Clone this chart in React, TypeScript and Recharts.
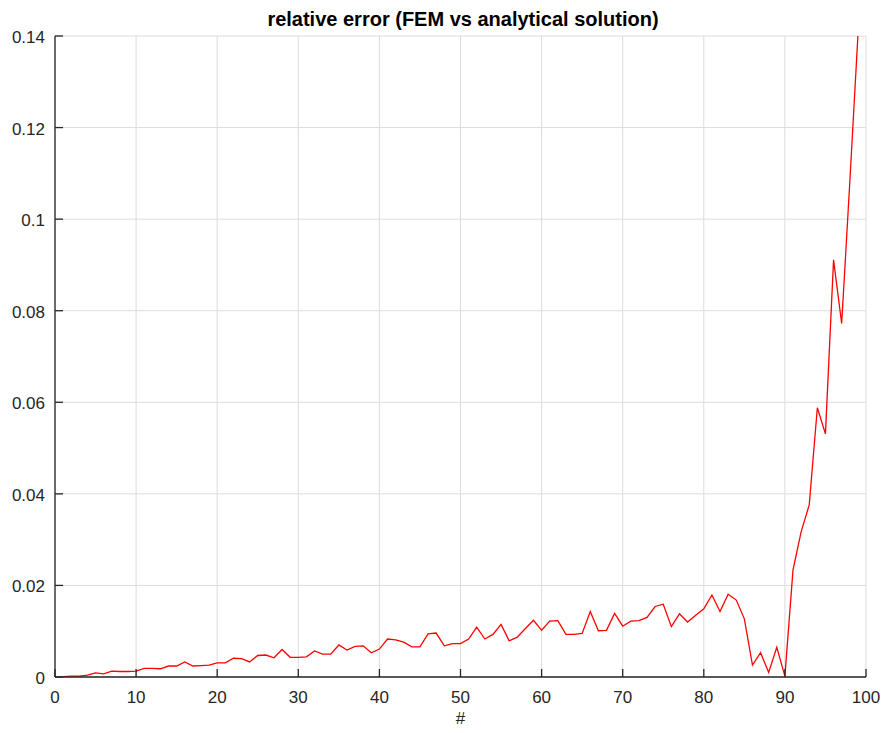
import { LineChart, Line, XAxis, YAxis, CartesianGrid } from 'recharts'

// relative error per sample, samples numbered from 1
const relErr = [
  0.0001, 0.0002, 0.0002, 0.0004, 0.0009, 0.0007, 0.0013, 0.0012, 0.0012, 0.0013,
  0.0019, 0.0019, 0.0018, 0.0024, 0.0024, 0.0033, 0.0024, 0.0025, 0.0026, 0.0031,
  0.0031, 0.0041, 0.004, 0.0033, 0.0047, 0.0048, 0.0042, 0.006, 0.0043, 0.0043,
  0.0044, 0.0057, 0.005, 0.005, 0.007, 0.0059, 0.0067, 0.0068, 0.0053, 0.0061,
  0.0083, 0.0081, 0.0076, 0.0066, 0.0066, 0.0094, 0.0096, 0.0068, 0.0073, 0.0073,
  0.0083, 0.0109, 0.0083, 0.0093, 0.0115, 0.0079, 0.0087, 0.0106, 0.0124, 0.0102,
  0.0122, 0.0123, 0.0093, 0.0093, 0.0095, 0.0143, 0.0101, 0.0102, 0.0139, 0.0111,
  0.0122, 0.0123, 0.013, 0.0154, 0.0159, 0.011, 0.0138, 0.012, 0.0135, 0.0149,
  0.0179, 0.0143, 0.0181, 0.0168, 0.0127, 0.0026, 0.0053, 0.001, 0.0065, 0.0002,
  0.0234, 0.0317, 0.0376, 0.0588, 0.0531, 0.0911, 0.0772, 0.108, 0.14,
]

const xTicks = [0, 10, 20, 30, 40, 50, 60, 70, 80, 90, 100]
const yTicks = [0, 0.02, 0.04, 0.06, 0.08, 0.1, 0.12, 0.14]

const chartData = relErr.map((v, i) => ({ n: i + 1, err: v }))

const INK = '#262626'
const FONT = '"Liberation Sans", Arial, Helvetica, sans-serif'

// negative tickSize turns the tick marks inward (MATLAB style)
function BottomTick(props: any) {
  const { x, y, payload } = props
  return (
    <text x={x} y={y + 14} textAnchor="middle" fill={INK} fontSize={17} fontFamily={FONT}>
      {payload.value}
    </text>
  )
}

function LeftTick(props: any) {
  const { x, y, payload } = props
  return (
    <text x={x} y={y + 7} textAnchor="end" fill={INK} fontSize={17} fontFamily={FONT}>
      {payload.value}
    </text>
  )
}

export default function App() {
  return (
    <div style={{ position: 'relative', width: 882, height: 733, background: '#fff' }}>
      <style>{'body{margin:0}'}</style>
      <div
        style={{
          position: 'absolute',
          left: 55,
          width: 816,
          top: 8,
          textAlign: 'center',
          fontFamily: FONT,
          fontWeight: 'bold',
          fontSize: 20,
          color: '#000',
        }}
      >
        relative error (FEM vs analytical solution)
      </div>
      <div
        style={{
          position: 'absolute',
          left: 55,
          width: 811,
          top: 709,
          textAlign: 'center',
          fontFamily: FONT,
          fontSize: 17,
          color: INK,
        }}
      >
        #
      </div>
      <LineChart width={882} height={733} data={chartData} margin={{ top: 36, right: 16, left: 0, bottom: 0 }}>
        <CartesianGrid stroke="#dcdcdc" strokeWidth={1} />
        <XAxis
          dataKey="n"
          type="number"
          domain={[0, 100]}
          ticks={xTicks}
          interval={0}
          height={56}
          tickSize={-8}
          tickMargin={20}
          tickLine={{ stroke: INK, strokeWidth: 1.3 }}
          axisLine={{ stroke: INK, strokeWidth: 1.3 }}
          tick={<BottomTick />}
        />
        <YAxis
          type="number"
          domain={[0, 0.14]}
          ticks={yTicks}
          interval={0}
          width={55}
          tickSize={-8}
          tickMargin={18}
          tickLine={{ stroke: INK, strokeWidth: 1.3 }}
          axisLine={{ stroke: INK, strokeWidth: 1.3 }}
          tick={<LeftTick />}
          allowDataOverflow
        />
        <Line
          type="linear"
          dataKey="err"
          stroke="#ff0000"
          strokeWidth={1.3}
          dot={false}
          isAnimationActive={false}
        />
      </LineChart>
    </div>
  )
}
